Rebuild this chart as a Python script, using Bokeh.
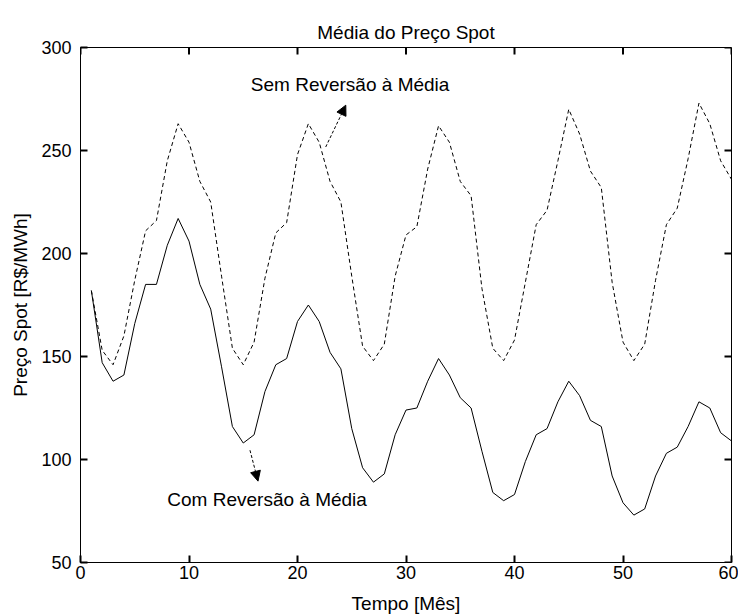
from bokeh.plotting import figure
from bokeh.models import Range1d, Arrow, NormalHead, Label, FixedTicker
from bokeh.embed import file_html
from bokeh.resources import INLINE

# ---- data ----
meses = list(range(1, 61))
com_reversao = [182, 147, 138, 141, 166, 185, 185, 204, 217, 206,
                185, 173, 145, 116, 108, 112, 133, 146, 149, 167,
                175, 167, 152, 144, 115, 96, 89, 93, 112, 124,
                125, 138, 149, 141, 130, 125, 104, 84, 80, 83,
                99, 112, 115, 128, 138, 131, 119, 116, 92, 79,
                73, 76, 92, 103, 106, 116, 128, 125, 113, 109]
sem_reversao = [182, 153, 146, 160, 187, 211, 216, 245, 263, 254,
                235, 225, 189, 154, 146, 157, 188, 210, 215, 248,
                263, 254, 235, 225, 189, 155, 148, 156, 189, 209,
                213, 241, 262, 254, 235, 228, 183, 154, 148, 158,
                186, 214, 221, 245, 270, 258, 240, 232, 186, 157,
                148, 156, 187, 214, 222, 246, 273, 263, 245, 236]
x_ticks = [0, 10, 20, 30, 40, 50, 60]
y_ticks = [50, 100, 150, 200, 250, 300]
x_min, x_max = 0, 60
y_min, y_max = 50, 300
titulo = "Média do Preço Spot"

# annotation anchors (data units)
sem_label = (15.7, 282.0)
com_label = (8.0, 80.4)
sem_arrow = (22.6, 251.7, 24.45, 272.0)
com_arrow = (15.62, 104.5, 16.36, 89.5)

FONT = "Liberation Sans"
TICK_LEN = 7
TICK_W = 2
FRAME_W, FRAME_H = 651, 515

p = figure(width=738, height=614, output_backend="svg", toolbar_location=None,
           x_range=Range1d(x_min, x_max), y_range=Range1d(y_min, y_max),
           frame_width=FRAME_W, frame_height=FRAME_H,
           min_border_left=80, min_border_right=7, min_border_top=47,
           min_border_bottom=52)
p.background_fill_color = "white"
p.border_fill_color = "white"
p.outline_line_color = "black"
p.outline_line_width = 1
p.xgrid.visible = False
p.ygrid.visible = False

p.title.text = titulo
p.title.align = "center"
p.title.text_font = FONT
p.title.text_font_size = "19px"
p.title.text_font_style = "normal"
p.title.text_color = "black"
p.title.standoff = 10

for ax in (p.xaxis[0], p.yaxis[0]):
    ax.major_tick_in = TICK_LEN
    ax.major_tick_out = 0
    ax.major_tick_line_color = "black"
    ax.major_tick_line_width = TICK_W
    ax.minor_tick_line_color = None
    ax.axis_line_color = "black"
    ax.major_label_text_font = FONT
    ax.major_label_text_color = "black"
    ax.major_label_text_font_size = "18px"
    ax.axis_label_text_font = FONT
    ax.axis_label_text_font_size = "19px"
    ax.axis_label_text_font_style = "normal"
    ax.axis_label_text_color = "black"

p.xaxis.ticker = FixedTicker(ticks=x_ticks)
p.yaxis.ticker = FixedTicker(ticks=y_ticks)
p.xaxis.axis_label = "Tempo [Mês]"
p.yaxis.axis_label = "Preço Spot [R$/MWh]"
p.xaxis.major_label_standoff = 3
p.xaxis.axis_label_standoff = 11
p.yaxis.major_label_standoff = 9
p.yaxis.axis_label_standoff = 7

# inward tick marks on top and right sides (MATLAB box style);
# tick length converted from pixels to data units
dy = TICK_LEN * (y_max - y_min) / FRAME_H
dx = TICK_LEN * (x_max - x_min) / FRAME_W
p.segment(x0=x_ticks, y0=[y_max] * len(x_ticks), x1=x_ticks,
          y1=[y_max - dy] * len(x_ticks), line_color="black", line_width=TICK_W)
p.segment(x0=[x_max] * len(y_ticks), y0=y_ticks, x1=[x_max - dx] * len(y_ticks),
          y1=y_ticks, line_color="black", line_width=TICK_W)

p.line(meses, sem_reversao, line_color="black", line_width=1, line_dash="4 3")
p.line(meses, com_reversao, line_color="black", line_width=1)

for (x0, y0, x1, y1) in (sem_arrow, com_arrow):
    p.add_layout(Arrow(x_start=x0, y_start=y0, x_end=x1, y_end=y1,
                       line_color="black", line_width=1, line_dash="3 2",
                       end=NormalHead(size=10, fill_color="black",
                                      line_color="black", line_width=1)))

for txt, (lx, ly) in (("Sem Reversão à Média", sem_label),
                      ("Com Reversão à Média", com_label)):
    p.add_layout(Label(x=lx, y=ly, text=txt, text_font=FONT,
                       text_font_size="19px", text_color="black",
                       text_baseline="middle", text_align="left"))

open("out.html", "w").write(file_html(p, INLINE))
